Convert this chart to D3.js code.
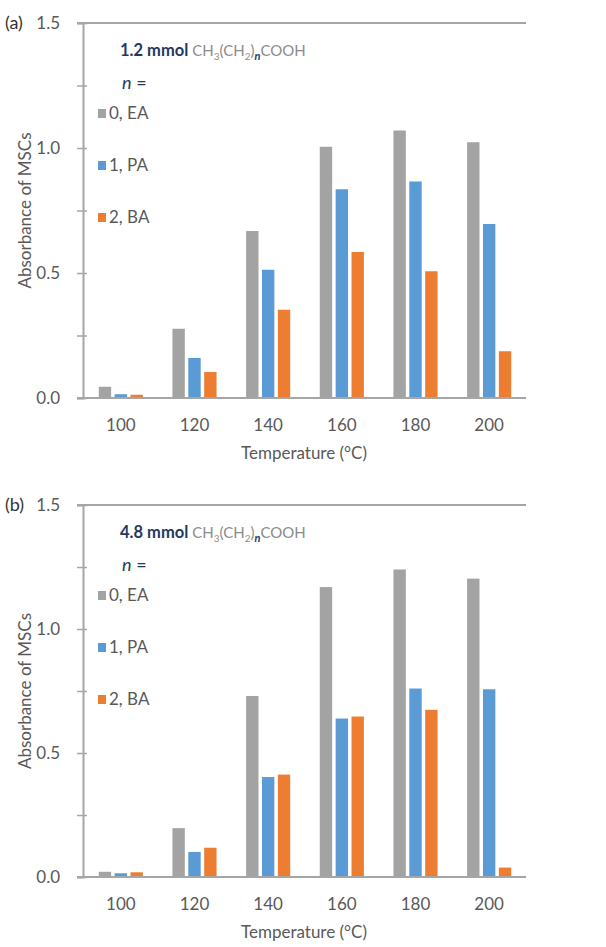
<!DOCTYPE html>
<html>
<head>
<meta charset="utf-8">
<script src="https://cdn.jsdelivr.net/npm/d3@7"></script>
<style>
  body { margin: 0; background: #fff; }
  svg { display: block; font-family: Lato, "Open Sans", sans-serif; }
</style>
</head>
<body>
<svg id="ch" width="606" height="947"></svg>
<script>
// Absorbance of MSCs vs temperature, two panels

const temps = ["100", "120", "140", "160", "180", "200"];
const seriesNames = ["0, EA", "1, PA", "2, BA"];
const seriesColors = ["#a3a3a3", "#5b9bd5", "#ed7d31"];

/* panel (a): 1.2 mmol */
const eaA = [0.045, 0.277, 0.668, 1.005, 1.07, 1.023];
const paA = [0.015, 0.16, 0.513, 0.835, 0.866, 0.696];
const baA = [0.013, 0.104, 0.353, 0.584, 0.507, 0.187];

/* panel (b): 4.8 mmol */
const eaB = [0.021, 0.197, 0.73, 1.169, 1.24, 1.203];
const paB = [0.015, 0.101, 0.403, 0.639, 0.76, 0.757];
const baB = [0.019, 0.118, 0.413, 0.647, 0.674, 0.038];

const yTicks = [0, 0.25, 0.5, 0.75, 1.0, 1.25, 1.5];
const yLabels = [0, 0.5, 1.0, 1.5];

const svg = d3.select("#ch");
const axisColor = "#a6a6a6";
const textColor = "#595959";
const gray = "#8c8c8c";
const navy = "#1f3a60";

const axisX = 83;
const lineStart = 77;
const plotRight = 526;

const x0 = d3.scaleBand().domain(temps).range([axisX + 1, plotRight]);
const x1 = d3
  .scaleBand()
  .domain(seriesNames)
  .range([-23.8, 23.8])
  .paddingInner(0.22)
  .paddingOuter(0.11);

const drawPanel = (tag, amount, top, bottom, values) => {
  const g = svg.append("g");
  const y = d3.scaleLinear().domain([0, 1.5]).range([bottom, top]);

  /* top line */
  g.append("line")
    .attr("x1", lineStart).attr("x2", plotRight)
    .attr("y1", y(1.5)).attr("y2", y(1.5))
    .attr("stroke", axisColor).attr("stroke-width", 2);

  /* bars */
  seriesNames.forEach((s, k) => {
    g.selectAll(null)
      .data(values[k])
      .enter()
      .append("rect")
      .attr("x", (d, i) => x0(temps[i]) + x0.bandwidth() / 2 + x1(s))
      .attr("y", (d) => y(d))
      .attr("width", x1.bandwidth())
      .attr("height", (d) => y(0) - y(d))
      .style("fill", seriesColors[k]);
  });

  /* baseline */
  g.append("line")
    .attr("x1", lineStart).attr("x2", plotRight)
    .attr("y1", y(0)).attr("y2", y(0))
    .attr("stroke", axisColor).attr("stroke-width", 2);

  /* y axis */
  const yAxis = g
    .append("g")
    .attr("transform", `translate(${axisX},0)`)
    .call(d3.axisLeft(y).tickValues(yTicks).tickSize(6).tickFormat(""));
  yAxis.select(".domain").attr("stroke", axisColor).attr("stroke-width", 2);
  yAxis.selectAll(".tick line")
    .attr("stroke", axisColor).attr("stroke-width", 1.5)
    .attr("x2", -6).attr("x1", 4);

  g.selectAll(null)
    .data(yLabels)
    .enter()
    .append("text")
    .attr("x", 60)
    .attr("y", (d) => y(d) + 6)
    .attr("text-anchor", "end")
    .style("font-size", "17px")
    .style("fill", textColor)
    .text((d) => d.toFixed(1));

  g.append("text")
    .attr("x", 5)
    .attr("y", y(1.5) + 6)
    .style("font-size", "18px")
    .style("fill", "#333")
    .text(tag);

  /* x labels */
  g.selectAll(null)
    .data(temps)
    .enter()
    .append("text")
    .attr("x", (d) => x0(d) + x0.bandwidth() / 2)
    .attr("y", y(0) + 33)
    .attr("text-anchor", "middle")
    .style("font-size", "17px")
    .style("fill", textColor)
    .text((d) => d);

  g.append("text")
    .attr("x", 304)
    .attr("y", y(0) + 61)
    .attr("text-anchor", "middle")
    .style("font-size", "17px")
    .style("fill", textColor)
    .text("Temperature (°C)");

  g.append("text")
    .attr("transform", `translate(31,${(y(0) + y(1.5)) / 2}) rotate(-90)`)
    .attr("text-anchor", "middle")
    .style("font-size", "17px")
    .style("fill", textColor)
    .text("Absorbance of MSCs");

  /* legend */
  const head = g.append("text")
    .attr("x", 120)
    .attr("y", top + 33)
    .style("font-size", "15px");
  head.append("tspan").style("fill", navy).style("font-weight", "bold").style("font-size", "16.5px").text(amount + " mmol ");
  head.append("tspan").style("fill", gray).text("CH");
  head.append("tspan").style("fill", gray).style("font-size", "10px").attr("dy", 4).text("3");
  head.append("tspan").style("fill", gray).attr("dy", -4).text("(CH");
  head.append("tspan").style("fill", gray).style("font-size", "10px").attr("dy", 4).text("2");
  head.append("tspan").style("fill", gray).attr("dy", -4).text(")");
  head.append("tspan").style("fill", navy).style("font-size", "11px").style("font-style", "italic").style("font-weight", "bold").attr("dy", 4).text("n");
  head.append("tspan").style("fill", gray).attr("dy", -4).text("COOH");

  g.append("text")
    .attr("x", 122)
    .attr("y", top + 66)
    .style("font-size", "18px")
    .style("fill", navy)
    .html('<tspan font-style="italic">n</tspan> =');

  seriesNames.forEach((s, k) => {
    const cy = top + 90 + k * 52;
    g.append("rect")
      .attr("x", 98).attr("y", cy - 4)
      .attr("width", 8).attr("height", 9)
      .style("fill", seriesColors[k]);
    g.append("text")
      .attr("x", 109)
      .attr("y", cy + 6)
      .style("font-size", "17px")
      .style("fill", textColor)
      .text(s);
  });
};

drawPanel("(a)", "1.2", 23, 398, [eaA, paA, baA]);
drawPanel("(b)", "4.8", 505, 877, [eaB, paB, baB]);
</script>
</body>
</html>
